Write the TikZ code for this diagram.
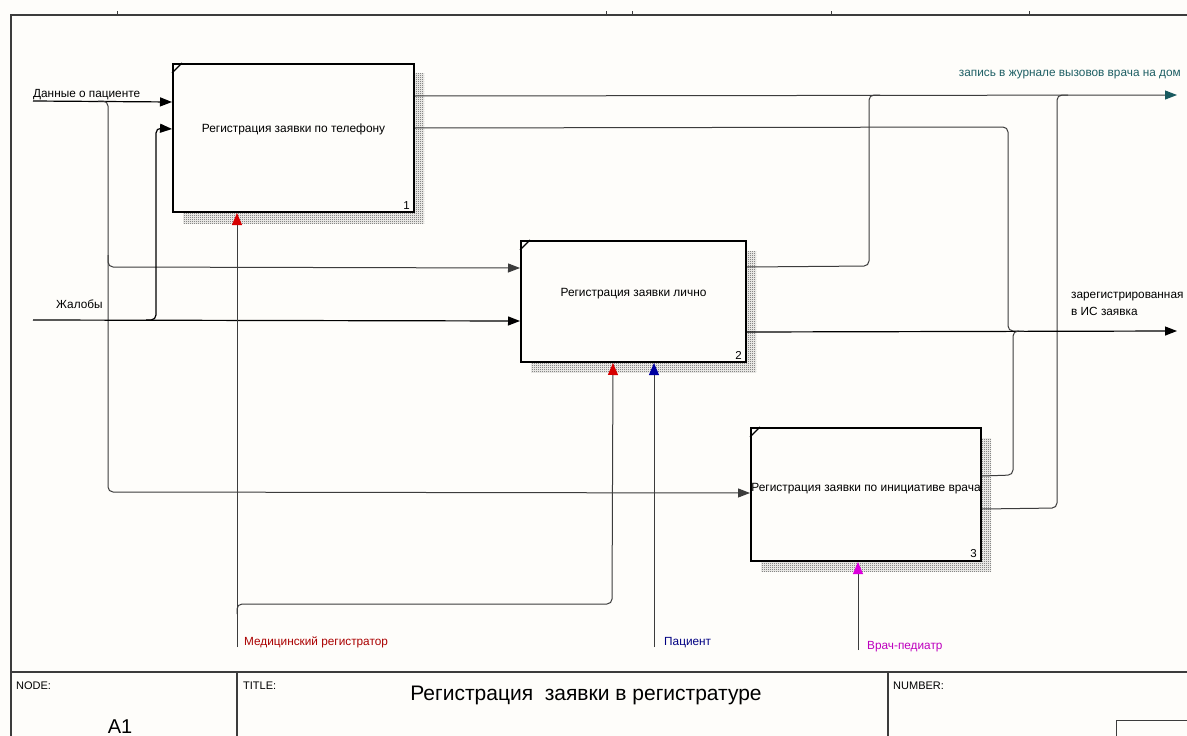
\documentclass[tikz,border=0pt]{standalone}
\usepackage{fontspec}
\setmainfont{Liberation Sans}
\usetikzlibrary{arrows.meta,patterns,patterns.meta}
\definecolor{bg}{RGB}{254,253,250}
\definecolor{ln}{RGB}{60,60,60}
\definecolor{tealc}{RGB}{25,90,95}
\definecolor{tealtxt}{RGB}{30,95,100}
\definecolor{medred}{RGB}{170,0,0}
\definecolor{arrred}{RGB}{215,0,0}
\definecolor{pacblue}{RGB}{0,0,130}
\definecolor{arrblue}{RGB}{0,0,160}
\definecolor{vrmag}{RGB}{190,0,190}
\definecolor{arrmag}{RGB}{220,0,220}
\tikzdeclarepattern{
  name=checker,
  type=uncolored,
  bounding box={(0pt,0pt) and (2pt,2pt)},
  tile size={(2pt,2pt)},
  code={
    \pgfpathrectangle{\pgfpointorigin}{\pgfpoint{1pt}{1pt}}
    \pgfpathrectangle{\pgfpoint{1pt}{1pt}}{\pgfpoint{1pt}{1pt}}
    \pgfusepath{fill}
  }
}
\begin{document}
\begin{tikzpicture}[x=1pt,y=-1pt,
  procbox/.style={draw=black,line width=2pt,fill=bg,anchor=north west,inner sep=0pt},
  shadowbox/.style={pattern=checker,pattern color=black!72},
  conn/.style={draw=ln,line width=1pt,rounded corners=5pt},
  inconn/.style={draw=black,line width=1.2pt,rounded corners=5pt},
  tip/.style={-{Triangle[length=12pt,width=9pt]}},
  lbl/.style={font=\fontsize{11.8}{14}\selectfont,inner sep=0pt},
  boxtxt/.style={font=\fontsize{11.9}{14}\selectfont,inner sep=0pt},
  numtxt/.style={font=\fontsize{11.5}{13}\selectfont,inner sep=0pt,anchor=base east},
  small/.style={font=\fontsize{11}{13}\selectfont,inner sep=0pt,anchor=base west},
  frame/.style={draw=ln,line width=1.5pt},
  corner/.style={draw=black,line width=1.3pt}
]
\fill[bg] (0,0) rectangle (1187,736);
\useasboundingbox (0,0) rectangle (1187,736);

% frame
\draw[frame] (11,736) -- (11,15) -- (1187,15);
\foreach \t in {117,606,632,831,1029} \draw[ln,line width=0.8pt] (\t,11) -- (\t,15);
\draw[frame] (11,672) -- (1187,672);
\draw[frame] (237,672) -- (237,736);
\draw[frame] (888,672) -- (888,736);
\draw[ln,line width=1pt] (1116,736) -- (1116,720) -- (1187,720);

% shadows
\fill[shadowbox] (183,73) rectangle (424,223);
\fill[shadowbox] (531,251) rectangle (756,372);
\fill[shadowbox] (761,438) rectangle (991,571);

% boxes
\node[procbox,minimum width=241pt,minimum height=148pt] (b1) at (172,63) {};
\node[procbox,minimum width=225pt,minimum height=121pt] (b2) at (520,240) {};
\node[procbox,minimum width=230pt,minimum height=133pt] (b3) at (750,427) {};

\draw[corner] ([yshift=-10pt]b1.north west) -- ([xshift=10pt]b1.north west);
\draw[corner] ([yshift=-10pt]b2.north west) -- ([xshift=10pt]b2.north west);
\draw[corner] ([yshift=-10pt]b3.north west) -- ([xshift=10pt]b3.north west);

\node[boxtxt] (t1) at ([yshift=9pt]b1.center) {Регистрация заявки по телефону};
\node[boxtxt] (t2) at ([yshift=8pt]b2.center) {Регистрация заявки лично};
\node[boxtxt] (t3) at ([yshift=6pt]b3.center) {Регистрация заявки по инициативе врача};

\node[numtxt] (n1) at ([xshift=-5pt,yshift=4pt]b1.south east) {1};
\node[numtxt] (n2) at ([xshift=-5pt,yshift=4pt]b2.south east) {2};
\node[numtxt] (n3) at ([xshift=-5pt,yshift=5pt]b3.south east) {3};

% free ends
\coordinate (inDan) at (33,101);
\coordinate (inZh) at (33,320);
\coordinate (outA) at (1177,95);
\coordinate (outB) at (1177,331);
\coordinate (ctlMed) at (237,647);
\coordinate (ctlPac) at (654,647);
\coordinate (ctlVr) at (858,650);

% inputs
\draw[inconn,tip] (inDan) -- ([yshift=36pt]b1.west);
\draw[conn,tip] (98,101) -- (108,101) -- (108,492) -- ([yshift=1.5pt]b3.west);
\draw[conn,tip] (108,255) -- (108,267) -- ([yshift=33.5pt]b2.west);
\draw[inconn,tip] (inZh) -- ([yshift=-19.5pt]b2.west);
\draw[inconn,tip] (146,320) -- (156,320) -- (156,128) -- ([yshift=9pt]b1.west);

% outputs
\draw[conn,-{Triangle[length=12pt,width=9pt,color=tealc]}] ([yshift=42pt]b1.east) -- (outA);
\draw[conn] ([yshift=34.5pt]b2.east) -- (869,266) -- (869,95) -- (880,95);
\draw[conn] ([yshift=-14.5pt]b3.east) -- (1057,508) -- (1057,95) -- (1068,95);
\draw[conn] ([yshift=10pt]b1.east) -- (1008,127) -- (1008,331) -- (1019,331);
\draw[inconn,tip] ([yshift=-30.5pt]b2.east) -- (outB);
\draw[conn] ([yshift=18.5pt]b3.east) -- (1013,475) -- (1013,331) -- (1024,331);

% controls
\draw[conn,-{Triangle[length=12pt,width=10pt,color=arrred]}] (ctlMed) -- (ctlMed |- b1.south);
\draw[conn,-{Triangle[length=12pt,width=10pt,color=arrred]}] (237,614) -- (237,604) -- (612,604) -- ([xshift=-20.5pt]b2.south);
\draw[conn,-{Triangle[length=12pt,width=10pt,color=arrblue]}] (ctlPac) -- (ctlPac |- b2.south);
\draw[conn,-{Triangle[length=12pt,width=10pt,color=arrmag]}] (ctlVr) -- (ctlVr |- b3.south);

% labels
\node[lbl,anchor=base west] (lDan) at (33,97) {Данные о пациенте};
\node[lbl,anchor=base west] (lZh) at (56,308) {Жалобы};
\node[lbl,anchor=base east,text=tealtxt] (lA) at (1181,76) {запись в журнале вызовов врача на дом};
\node[lbl,anchor=base west] (lB1) at (1071,298) {зарегистрированная};
\node[lbl,anchor=base west] (lB2) at (1071,315) {в ИС заявка};
\node[lbl,anchor=base west,text=medred] (lMed) at (244,645) {Медицинский регистратор};
\node[lbl,anchor=base west,text=pacblue] (lPac) at (664,645) {Пациент};
\node[lbl,anchor=base west,text=vrmag] (lVr) at (867,649) {Врач-педиатр};

% title block
\node[small] (node) at (16,689) {NODE:};
\node[small] (title) at (243,689) {TITLE:};
\node[small] (number) at (893,689) {NUMBER:};
\node[font=\fontsize{21}{24}\selectfont,inner sep=0pt,anchor=base] (ttl) at (586,700) {Регистрация\ \ заявки в регистратуре};
\node[font=\fontsize{20}{22}\selectfont,inner sep=0pt,anchor=base] (a1) at (120,733) {A1};
\end{tikzpicture}
\end{document}
